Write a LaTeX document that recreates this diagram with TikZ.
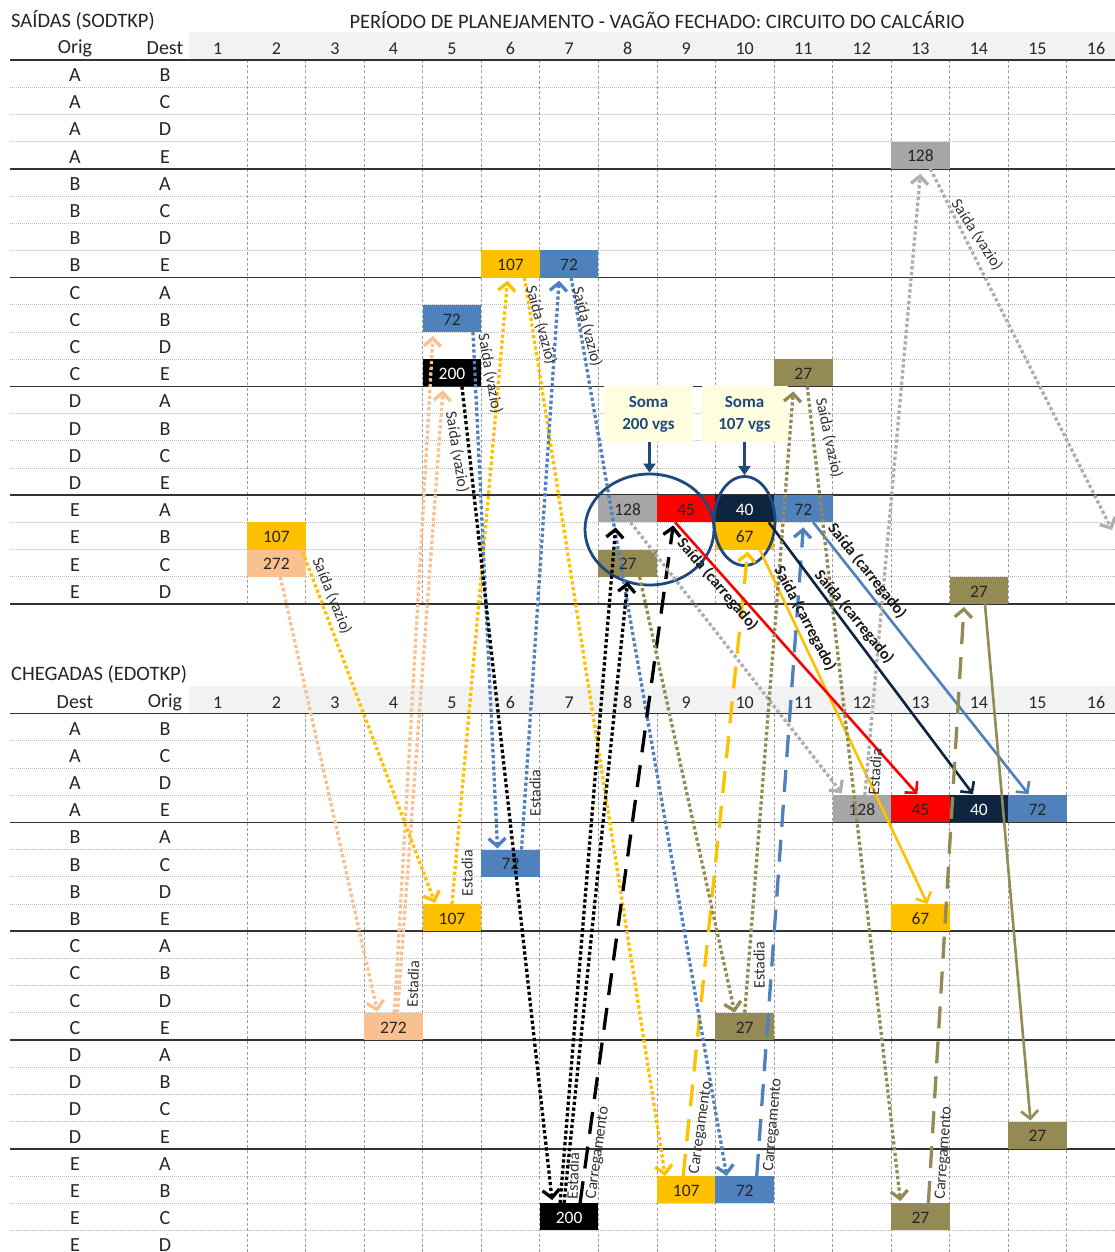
\documentclass[tikz,border=0pt]{standalone}
\usepackage{fontspec}
\setmainfont{Carlito}
\usetikzlibrary{calc,arrows.meta,shapes.geometric}
\definecolor{cgray}{HTML}{A6A6A6}
\definecolor{cgrayL}{HTML}{AEAEAE}
\definecolor{cyel}{HTML}{FFC000}
\definecolor{cblue}{HTML}{4F81BD}
\definecolor{cnavy}{HTML}{0F243E}
\definecolor{cpeach}{HTML}{FAC090}
\definecolor{colive}{HTML}{948A54}
\definecolor{csoma}{HTML}{FFFFE0}
\definecolor{cdblue}{HTML}{1F497D}
\definecolor{chead}{HTML}{F2F2F2}
\tikzset{
  cell/.style={minimum width=58.55pt, minimum height=27.2pt, inner sep=0pt, outer sep=0pt,
    text height=13.5pt, text depth=0pt,
    font=\fontsize{17.5}{17.5}\selectfont, text=black!85},
  rowlbl/.style={inner sep=0pt, yshift=-1.5pt, font=\fontsize{20}{20}\selectfont, text=black!85},
  hdr/.style={inner sep=0pt, yshift=-1.5pt, font=\fontsize{20}{20}\selectfont, text=black!85},
  num/.style={inner sep=0pt, yshift=-1.5pt, font=\fontsize{18}{18}\selectfont, text=black!85},
  ttl/.style={inner sep=0pt, font=\fontsize{20.5}{20.5}\selectfont, text=black!85},
  rowline/.style={gray!55, line width=0.8pt, dash pattern=on 1pt off 1pt},
  colline/.style={gray!75, line width=0.8pt, dash pattern=on 3pt off 2.2pt},
  sepline/.style={black!80, line width=1.6pt},
  tipv/.style={-{Straight Barb[length=8pt,width=17pt]}},
  dotc/.style={tipv, line width=3.3pt, dash pattern=on 3.3pt off 2.5pt},
  dshc/.style={tipv, line width=3.3pt, dash pattern=on 22pt off 13pt},
  solc/.style={tipv, line width=2.6pt},
  lbl/.style={inner sep=0pt, font=\fontsize{16}{16}\selectfont, text=black!80},
  lblb/.style={inner sep=0pt, font=\fontsize{16}{16}\selectfont\bfseries, text=black!90},
  soma/.style={fill=csoma, minimum height=56pt, inner sep=0pt, align=center,
    font=\fontsize{17}{22}\selectfont\bfseries, text=cdblue},
  ring/.style={draw=cdblue, line width=2.8pt, ellipse, inner sep=0pt},
  somaarr/.style={draw=cdblue, line width=2.6pt, -{Triangle[length=9pt,width=12pt]}}
}
\begin{document}
\begin{tikzpicture}[x=1pt,y=-1pt]
\useasboundingbox (0,0) rectangle (1115,1252);
\fill[white] (0,0) rectangle (1115,1252);
% header bands
\fill[chead] (188.5,32) rectangle (1115,60);
\fill[chead] (188.5,686) rectangle (1115,713.5);
% row lines
\foreach \i in {1,...,19} {
  \draw[rowline] (10,{60+27.2*\i}) -- (1115,{60+27.2*\i});
  \draw[rowline] (10,{713.5+27.2*\i}) -- (1115,{713.5+27.2*\i});
}
% column lines
\foreach \k in {1,...,15} {
  \draw[colline] ({188.5+58.55*\k},60) -- ({188.5+58.55*\k},604);
  \draw[colline] ({188.5+58.55*\k},713.5) -- ({188.5+58.55*\k},1252);
}
% separators
\foreach \i in {0,4,8,12,16,20} {
  \draw[sepline] (10,{60+27.2*\i}) -- (1115,{60+27.2*\i});
}
\foreach \i in {0,4,8,12,16} {
  \draw[sepline] (10,{713.5+27.2*\i}) -- (1115,{713.5+27.2*\i});
}
% titles
\node[ttl, anchor=west] (t1) at (11,20) {SAÍDAS (SODTKP)};
\node[ttl] (t2) at (657,20) {PERÍODO DE PLANEJAMENTO - VAGÃO FECHADO: CIRCUITO DO CALCÁRIO};
\node[ttl, anchor=west] (t3) at (11,674) {CHEGADAS (EDOTKP)};
\node[hdr] (h1) at (75,47) {Orig};
\node[hdr] (h2) at (165,47) {Dest};
\node[hdr] (h3) at (75,701) {Dest};
\node[hdr] (h4) at (165,701) {Orig};
\foreach \k in {1,...,16} {
  \node[num] (ht\k) at ({159.225+58.55*\k},47) {\k};
  \node[num] (hb\k) at ({159.225+58.55*\k},701) {\k};
}
\foreach \o/\d [count=\i from 0] in {A/B,A/C,A/D,A/E,B/A,B/C,B/D,B/E,C/A,C/B,C/D,C/E,D/A,D/B,D/C,D/E,E/A,E/B,E/C,E/D} {
  \node[rowlbl] (to\i) at (75,{73.6+27.2*\i}) {\o};
  \node[rowlbl] (td\i) at (165,{73.6+27.2*\i}) {\d};
  \node[rowlbl] (bo\i) at (75,{727.1+27.2*\i}) {\o};
  \node[rowlbl] (bd\i) at (165,{727.1+27.2*\i}) {\d};
}
% top cells
\node[cell, fill=cgray] (tA128) at (920.375,155.2) {128};
\node[cell, fill=cyel] (tB107) at (510.525,264) {107};
\node[cell, fill=cblue] (tB72) at (569.075,264) {72};
\node[cell, fill=cblue] (tC72) at (451.975,318.4) {72};
\node[cell, fill=black, text=white] (tC200) at (451.975,372.8) {200};
\node[cell, fill=colive] (tC27) at (803.275,372.8) {27};
\node[cell, fill=cgray] (tE128) at (627.625,508.8) {128};
\node[cell, fill=red] (tE45) at (686.175,508.8) {45};
\node[cell, fill=cnavy, text=white] (tE40) at (744.725,508.8) {40};
\node[cell, fill=cblue] (tE72) at (803.275,508.8) {72};
\node[cell, fill=cyel] (tEB107) at (276.325,536) {107};
\node[cell, fill=cyel] (tE67) at (744.725,536) {67};
\node[cell, fill=cpeach] (tEC272) at (276.325,563.2) {272};
\node[cell, fill=colive] (tEC27) at (627.625,563.2) {27};
\node[cell, fill=colive] (tED27) at (978.925,590.4) {27};
% bottom cells
\node[cell, fill=cgray] (bA128) at (861.825,808.7) {128};
\node[cell, fill=red] (bA45) at (920.375,808.7) {45};
\node[cell, fill=cnavy, text=white] (bA40) at (978.925,808.7) {40};
\node[cell, fill=cblue] (bA72) at (1037.475,808.7) {72};
\node[cell, fill=cblue] (bB72) at (510.525,863.1) {72};
\node[cell, fill=cyel] (bB107) at (451.975,917.5) {107};
\node[cell, fill=cyel] (bB67) at (920.375,917.5) {67};
\node[cell, fill=cpeach] (bC272) at (393.425,1026.3) {272};
\node[cell, fill=colive] (bC27) at (744.725,1026.3) {27};
\node[cell, fill=colive] (bD27) at (1037.475,1135.1) {27};
\node[cell, fill=cyel] (bE107) at (686.175,1189.5) {107};
\node[cell, fill=cblue] (bE72) at (744.725,1189.5) {72};
\node[cell, fill=black, text=white] (bE200) at (569.075,1216.7) {200};
\node[cell, fill=colive] (bE27) at (920.375,1216.7) {27};
% soma boxes and rings
\node[soma, minimum width=89pt] (soma1) at (648.5,414) {Soma\\200 vgs};
\node[soma, minimum width=86pt] (soma2) at (744.5,414) {Soma\\107 vgs};
\node[ring, minimum width=129pt, minimum height=111pt] (ring1) at (649.5,529.5) {};
\node[ring, minimum width=61pt, minimum height=89pt] (ring2) at (744.5,521) {};
\draw[somaarr] (soma1.south -| ring1.north) -- (ring1.north);
\draw[somaarr] (soma2.south -| ring2.north) -- (ring2.north);
\coordinate (offR) at (1112,530);
% connectors: peach
\draw[dotc, cpeach] ($(tEC272.south)+(4,0)$) -- ($(bC272.north)+(-16,-1)$);
\draw[dotc, cpeach] ($(bC272.north)+(1,0)$) -- ($(tC72.south)+(-19,4)$);
\draw[dotc, cpeach] ($(bC272.north)+(4,0)$) -- ($(tC200.south)+(-9,4)$);
% yellow
\draw[dotc, cyel] ($(tEB107.south east)+(-3,2)$) -- ($(bB107.north)+(-17,-1)$);
\draw[dotc, cyel] ($(bB107.north)+(0,0)$) -- ($(tB107.south)+(-3,3)$);
\draw[dotc, cyel] ($(tB107.south)+(14,0)$) -- ($(bE107.north)+(-21,0)$);
\draw[dshc, cyel] ($(bE107.north)+(-3,0)$) -- ($(tE67.south)+(3,2)$);
\draw[solc, cyel] ($(tE67.south)+(15,0)$) -- ($(bB67.north)+(7,0)$);
% blue
\draw[dotc, cblue] ($(tC72.south)+(21,0)$) -- ($(bB72.north)+(-13,-1)$);
\draw[dotc, cblue] ($(bB72.north)+(11,0)$) -- ($(tB72.south)+(-10,3)$);
\draw[dotc, cblue] ($(tB72.south)+(2,0)$) -- ($(bE72.north)+(-18,0)$);
\draw[dshc, cblue] ($(bE72.north)+(12,0)$) -- ($(tE72.south)+(0,5)$);
\draw[solc, cblue] ($(tE72.south)+(10,0)$) -- ($(bA72.north)+(-9,-1)$);
% black
\draw[dotc, black] ($(tC200.south)+(10,0)$) -- ($(bE200.north)+(-17,-3)$);
\draw[dotc, black] ($(bE200.north)+(-9,0)$) -- ($(tE128.south)+(-12,5)$);
\draw[dotc, black] ($(bE200.north)+(-5,0)$) -- ($(tEC27.south)+(0,5)$);
\draw[dshc, black] ($(bE200.north)+(11,0)$) -- ($(tE45.south)+(-13,3)$);
% gray
\draw[dotc, cgrayL] ($(tE128.south)+(3,0)$) -- ($(bA128.north)+(-20,-2)$);
\draw[dotc, cgrayL] ($(bA128.north)+(3,0)$) -- ($(tA128.south)+(0,5)$);
\draw[dotc, cgrayL] ($(tA128.south)+(10,0)$) -- (offR);
% red, navy
\draw[solc, red] ($(tE45.south)+(-11,0)$) -- ($(bA45.north)+(-3,-1)$);
\draw[solc, cnavy] ($(tE40.south)+(24,0)$) -- ($(bA40.north)+(-6,-1)$);
% olive
\draw[dotc, colive] ($(tEC27.south)+(12,0)$) -- ($(bC27.north)+(-10,0)$);
\draw[dotc, colive] ($(bC27.north)+(0,0)$) -- ($(tC27.south)+(-10,5)$);
\draw[dotc, colive] ($(tC27.south)+(4,0)$) -- ($(bE27.north)+(-20,-2)$);
\draw[dshc, colive] ($(bE27.north)+(8,0)$) -- ($(tED27.south)+(-15,3)$);
\draw[solc, colive] ($(tED27.south)+(6,0)$) -- ($(bD27.north)+(-7,-1)$);
% labels
\node[lbl, rotate=-68] (l1) at (332,596) {Saída (vazio)};
\node[lbl, rotate=-80] (l2) at (490,374) {Saída (vazio)};
\node[lbl, rotate=-75] (l3) at (541,325) {Saída (vazio)};
\node[lbl, rotate=-76] (l4) at (587,327) {Saída (vazio)};
\node[lbl, rotate=-81] (l5) at (457,452) {Saída (vazio)};
\node[lbl, rotate=-78] (l6) at (829,438) {Saída (vazio)};
\node[lbl, rotate=-57] (l7) at (977,235) {Saída (vazio)};
\node[lblb, rotate=-49.6] (l8) at (717.5,584.5) {Saída (carregado)};
\node[lblb, rotate=-62.4] (l9) at (805,618.5) {Saída (carregado)};
\node[lblb, rotate=-50.6] (l10) at (854,617) {Saída (carregado)};
\node[lblb, rotate=-51.3] (l11) at (867,571) {Saída (carregado)};
\node[lbl, rotate=88] (e1) at (413,984) {Estadia};
\node[lbl, rotate=90] (e2) at (467,873) {Estadia};
\node[lbl, rotate=90] (e3) at (535,793) {Estadia};
\node[lbl, rotate=88] (e4) at (573,1176) {Estadia};
\node[lbl, rotate=90] (e5) at (759,965) {Estadia};
\node[lbl, rotate=86] (e6) at (875,772) {Estadia};
\node[lbl, rotate=82] (c1) at (598,1153) {Carregamento};
\node[lbl, rotate=82] (c2) at (701,1128) {Carregamento};
\node[lbl, rotate=85] (c3) at (773,1125) {Carregamento};
\node[lbl, rotate=86] (c4) at (944,1153) {Carregamento};
\end{tikzpicture}
\end{document}
